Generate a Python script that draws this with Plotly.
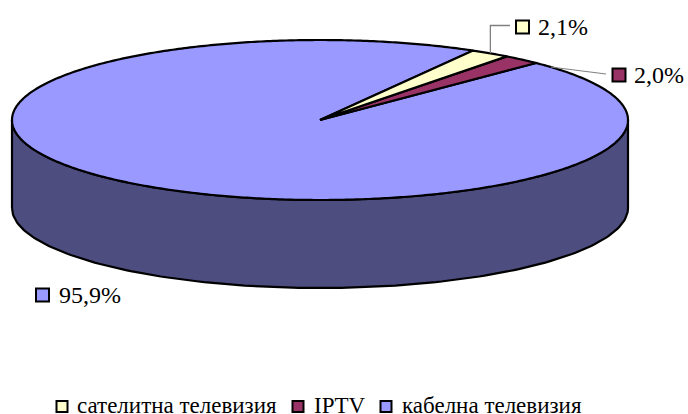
import numpy as np
import plotly.graph_objects as go

# Data
categories = ["сателитна телевизия", "IPTV", "кабелна телевизия"]
shares = [2.1, 2.0, 95.9]
share_labels = ["2,1%", "2,0%", "95,9%"]

# Styles
colors = ["#FFFFCC", "#993366", "#9999FF"]
side_color = "#4D4D80"
FONT = "Liberation Serif"

# Pie geometry (pixels)
CX, CY, RX, RY, DEPTH = 320, 120, 308, 80, 88
START_DEG = 60.2

# Label / legend layout (pixels)
label_swatch_x = [522.5, 619, 42.5]
label_swatch_y = [27, 75, 295]
label_text_x = [536, 632, 57]
label_text_y = [26.5, 74.5, 294.5]
legend_swatch_x = [62, 298, 386]
legend_text_x = [75, 312, 400]
LEGEND_SWATCH_Y = 406.5
LEGEND_TEXT_Y = 405


def pt(deg):
    r = np.radians(deg)
    return CX + RX * np.cos(r), CY - RY * np.sin(r)


fig = go.Figure()

# Front wall of the disc
t = np.linspace(180, 360, 160)
tx, ty = pt(t)
fig.add_trace(go.Scatter(
    x=np.concatenate([tx, tx[::-1], tx[:1]]),
    y=np.concatenate([ty + DEPTH, ty[::-1], ty[:1] + DEPTH]),
    mode="lines", fill="toself", fillcolor=side_color,
    line=dict(color="black", width=2.2), hoverinfo="skip", showlegend=False,
))

# Top slices, clockwise from the start angle
edges = START_DEG - np.cumsum([0] + shares) * 3.6
order = [2, 1, 0]
for i in order:
    a = np.linspace(edges[i], edges[i + 1], max(6, int(abs(shares[i]) * 6)))
    ax, ay = pt(a)
    fig.add_trace(go.Scatter(
        x=np.concatenate([[CX], ax, [CX]]),
        y=np.concatenate([[CY], ay, [CY]]),
        mode="lines", fill="toself", fillcolor=colors[i],
        line=dict(color="black", width=2.2, simplify=False),
        name=categories[i], showlegend=False, hoverinfo="name",
    ))

# Leader lines
x0, y0 = pt((edges[0] + edges[1]) / 2)
fig.add_trace(go.Scatter(x=[x0, x0, 510], y=[y0, 25.5, 25.5], mode="lines",
                         line=dict(color="#808080", width=1.3), hoverinfo="skip", showlegend=False))
x1, y1 = pt(edges[2] - 4)
fig.add_trace(go.Scatter(x=[x1, 606], y=[y1, 74], mode="lines",
                         line=dict(color="#808080", width=1), hoverinfo="skip", showlegend=False))

# Swatches
for xs, ys, size in [(label_swatch_x, label_swatch_y, 13), (legend_swatch_x, [LEGEND_SWATCH_Y] * 3, 11)]:
    fig.add_trace(go.Scatter(
        x=xs, y=ys, mode="markers",
        marker=dict(symbol="square", size=size, color=colors, line=dict(color="black", width=2)),
        hoverinfo="skip", showlegend=False,
    ))

ann = []
for x, y, s in zip(label_text_x, label_text_y, share_labels):
    ann.append(dict(x=x, y=y, text=s, xanchor="left", yanchor="middle", showarrow=False,
                    font=dict(family=FONT, size=24, color="black")))
for x, s in zip(legend_text_x, categories):
    ann.append(dict(x=x, y=LEGEND_TEXT_Y, text=s, xanchor="left", yanchor="middle", showarrow=False,
                    font=dict(family=FONT, size=23, color="black")))

fig.update_layout(
    width=688, height=414, margin=dict(l=0, r=0, t=0, b=0),
    paper_bgcolor="white", plot_bgcolor="white", showlegend=False,
    xaxis=dict(range=[0, 688], visible=False, fixedrange=True),
    yaxis=dict(range=[414, 0], visible=False, fixedrange=True),
    annotations=ann,
)
fig.write_html("out.html", config=dict(displayModeBar=False),
               post_script="document.body.style.margin='0';document.body.style.overflow='hidden';")
